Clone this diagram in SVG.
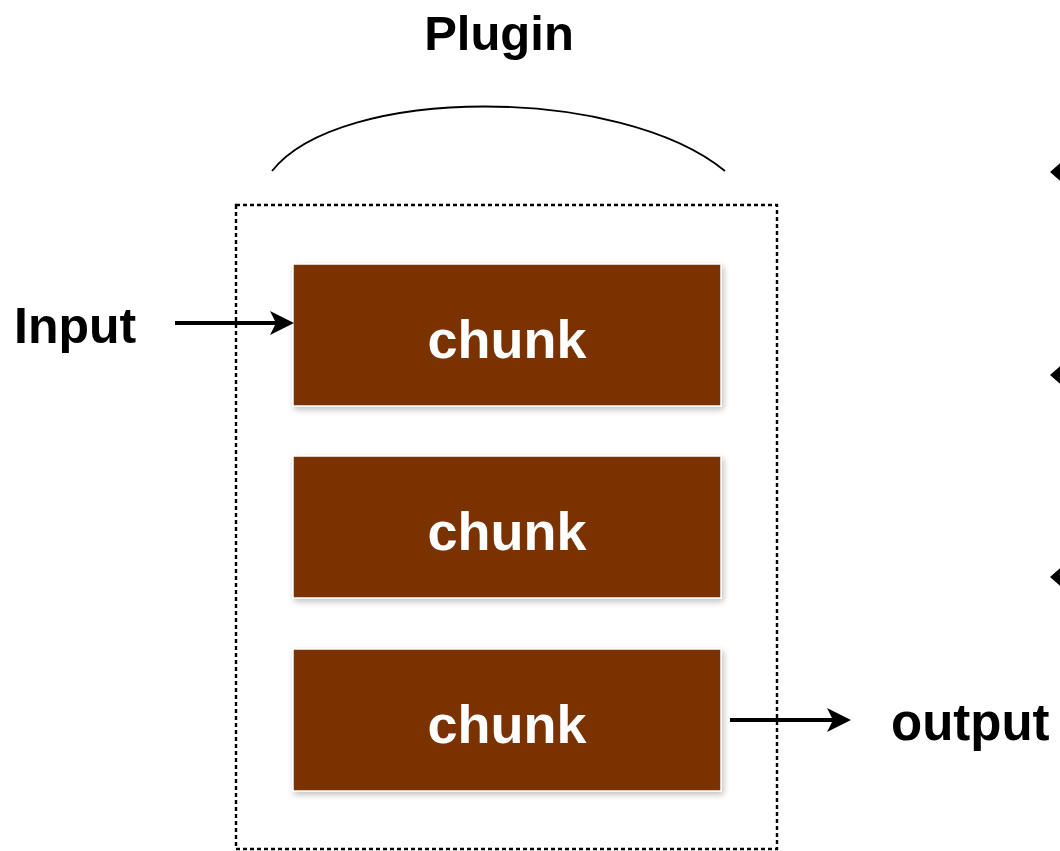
<svg xmlns="http://www.w3.org/2000/svg" width="1060" height="851" viewBox="0 0 1060 851">
  <style>
    .label { font-family: "Liberation Sans", Arial, sans-serif; font-weight: bold; fill: #000; }
    .chunk-box { fill: #7A3300; stroke: #ffffff; stroke-width: 1.5; filter: url(#shadow); }
    .chunk-text { font-family: "Liberation Sans", Arial, sans-serif; font-weight: bold; font-size: 54px; fill: #ffffff; text-anchor: middle; }
    .edge { fill: none; stroke: #000; stroke-width: 4; }
    .head { fill: #000; }
  </style>
  <defs>
    <filter id="shadow" x="-10%" y="-10%" width="120%" height="130%">
      <feGaussianBlur in="SourceAlpha" stdDeviation="3"/>
      <feOffset dx="2" dy="3" result="b"/>
      <feComponentTransfer><feFuncA type="linear" slope="0.25"/></feComponentTransfer>
      <feMerge><feMergeNode/><feMergeNode in="SourceGraphic"/></feMerge>
    </filter>
  </defs>
  <rect width="1060" height="851" fill="#ffffff"/>

  <!-- plugin bracket and title -->
  <g id="plugin">
    <text class="label" x="499" y="50" font-size="49" text-anchor="middle">Plugin</text>
    <path d="M272,171 C340,85 620,85 725,171" fill="none" stroke="#000" stroke-width="1.8"/>
    <rect x="236" y="205" width="541" height="644" fill="none" stroke="#000" stroke-width="2.4" stroke-dasharray="4 3"/>
  </g>

  <g id="chunk1">
    <rect class="chunk-box" x="293" y="264" width="428" height="142"/>
    <text class="chunk-text" x="507" y="358">chunk</text>
  </g>
  <g id="chunk2">
    <rect class="chunk-box" x="293" y="456" width="428" height="142"/>
    <text class="chunk-text" x="507" y="550">chunk</text>
  </g>
  <g id="chunk3">
    <rect class="chunk-box" x="293" y="649" width="428" height="142"/>
    <text class="chunk-text" x="507" y="743">chunk</text>
  </g>

  <g id="input">
    <text class="label" x="14" y="343" font-size="50">Input</text>
  </g>
  <g id="output">
    <text class="label" x="891" y="740" font-size="51">output</text>
  </g>

  <g id="connectors">
    <line class="edge" x1="175" y1="323" x2="280" y2="323"/>
    <path class="head" d="M294,323 L270,311 L276,323 L270,335 Z"/>
    <line class="edge" x1="730" y1="720" x2="840" y2="720"/>
    <path class="head" d="M851,720 L827,708 L833,720 L827,732 Z"/>
    <!-- arrowheads entering from the right edge -->
    <path class="head" d="M1050,172 L1066,158 L1062,172 L1066,186 Z"/>
    <path class="head" d="M1050,375 L1066,361 L1062,375 L1066,389 Z"/>
    <path class="head" d="M1050,577 L1066,563 L1062,577 L1066,591 Z"/>
  </g>
</svg>
